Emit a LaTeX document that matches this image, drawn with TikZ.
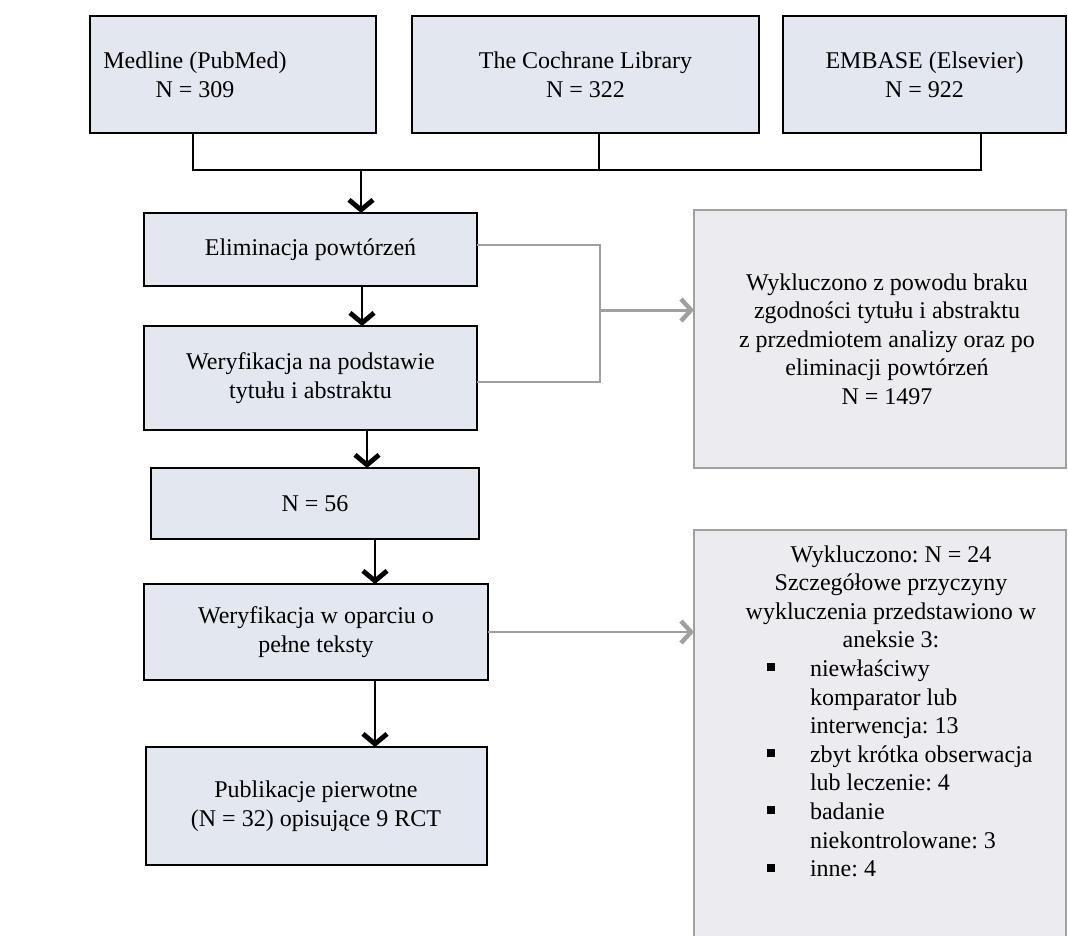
\documentclass[tikz,border=0pt]{standalone}
\usepackage{fontspec}
\setmainfont{Liberation Serif}
\usetikzlibrary{arrows.meta, positioning}
\definecolor{BoxFill}{RGB}{227, 231, 240}
\definecolor{ExFill}{RGB}{236, 235, 239}
\definecolor{ExGrey}{RGB}{160, 160, 160}
\frenchspacing

\begin{document}
\begin{tikzpicture}[
            x=1pt, y=-1pt,
            font=\fontsize{12}{14.3}\selectfont,
            srcbox/.style={draw=black, line width=1pt, fill=BoxFill, minimum height=58.5pt, align=center, inner sep=0pt, outer sep=0pt},
            stepbox/.style={draw=black, line width=1pt, fill=BoxFill, minimum width=166.5pt, align=center, inner sep=0pt, outer sep=0pt},
            exbox/.style={draw=ExGrey, line width=1pt, fill=ExFill, minimum width=186pt, align=center, inner sep=0pt, outer sep=0pt},
            link/.style={black, line width=1pt},
            arrow/.style={-{Straight Barb[length=5pt, width=12pt, line width=2.4pt]}, black, line width=1.4pt},
            thinarrow/.style={-{Straight Barb[length=5pt, width=12pt, line width=2.4pt]}, black, line width=1pt},
            greyline/.style={ExGrey, line width=1pt},
            greyarrow/.style={-{Straight Barb[length=5pt, width=11pt, line width=2.2pt]}, ExGrey, line width=1.5pt}
        ]
            \useasboundingbox (0,0) rectangle (534,467.5);

            \node[srcbox, minimum width=143pt] (medline) at (116.5,37.25) {\hspace*{-38pt}Medline (PubMed)\\ \hspace*{-38pt}N = 309};
            \node[srcbox, right=18pt of medline, minimum width=173.5pt] (cochrane) {The Cochrane Library\\ N = 322};
            \node[srcbox, right=12pt of cochrane, minimum width=141.5pt] (embase) {EMBASE (Elsevier)\\ N = 922};

            \node[stepbox, minimum height=36.5pt] (elim) at (155.25,124.75) {Eliminacja powtórzeń};
            \node[stepbox, below=20pt of elim, minimum height=52pt] (titleabs) {Weryfikacja na podstawie\\ tytułu i abstraktu};
            \node[stepbox, below=19pt of titleabs, xshift=2.25pt, minimum width=164pt, minimum height=35.5pt] (n56) {N = 56};
            \node[stepbox, below=22.5pt of n56, xshift=0.5pt, minimum width=172pt, minimum height=48pt] (fulltext) {Weryfikacja w oparciu o\\ pełne teksty};
            \node[stepbox, below=33.5pt of fulltext, minimum width=170.5pt, minimum height=59pt] (primary) {Publikacje pierwotne\\ (N = 32) opisujące 9 RCT};

            \node[exbox, minimum height=129pt] (excl1) at (440,169.5) {\hspace*{7pt}Wykluczono z powodu braku\\ \hspace*{7pt}zgodności tytułu i abstraktu\\ \hspace*{7pt}z przedmiotem analizy oraz po\\ \hspace*{7pt}eliminacji powtórzeń\\ \hspace*{7pt}N = 1497};
            \node[exbox, anchor=north, minimum height=215pt] (excl2) at (440,265) {};
            \node[text width=190pt, align=flush center, anchor=north, inner sep=0pt] (excl2txt) at (445.5,272.5) {Wykluczono: N = 24\\ Szczegółowe przyczyny\\ wykluczenia przedstawiono w\\ aneksie 3:\\ \hspace*{27.5pt}\begin{tabular}[t]{@{}p{21.5pt}@{}p{130pt}@{}}
                \rule[2.5pt]{4pt}{4pt} & niewłaściwy\\
                 & komparator lub\\
                 & interwencja: 13\\
                \rule[2.5pt]{4pt}{4pt} & zbyt krótka obserwacja\\
                 & lub leczenie: 4\\
                \rule[2.5pt]{4pt}{4pt} & badanie\\
                 & niekontrolowane: 3\\
                \rule[2.5pt]{4pt}{4pt} & inne: 4
            \end{tabular}};

            \coordinate (join) at (180.5,85);
            \draw[link] ([xshift=-20pt]medline.south) |- ([xshift=28.25pt]embase.south |- join) -- ([xshift=28.25pt]embase.south);
            \draw[link] ([xshift=6.75pt]cochrane.south) -- ([xshift=6.75pt]cochrane.south |- join);
            \draw[arrow] (join) -- (join |- elim.north);

            \draw[arrow] ([xshift=25.75pt]elim.south) -- ([xshift=25.75pt]elim.south |- titleabs.north);
            \draw[thinarrow] ([xshift=28.25pt]titleabs.south) -- ([xshift=28.25pt]titleabs.south |- n56.north);
            \draw[thinarrow] ([xshift=30pt]n56.south) -- ([xshift=30pt]n56.south |- fulltext.north);
            \draw[thinarrow] ([xshift=29.5pt]fulltext.south) -- ([xshift=29.5pt]fulltext.south |- primary.north);

            \coordinate (brk) at (300,155);
            \draw[greyline] ([yshift=2.25pt]elim.east) -| (brk) |- ([yshift=-2pt]titleabs.east);
            \draw[greyarrow] (brk) -- (brk -| excl1.west);
            \draw[greyarrow, line width=1pt] (fulltext.east) -- (fulltext.east -| excl2.west);
        \end{tikzpicture}
\end{document}
